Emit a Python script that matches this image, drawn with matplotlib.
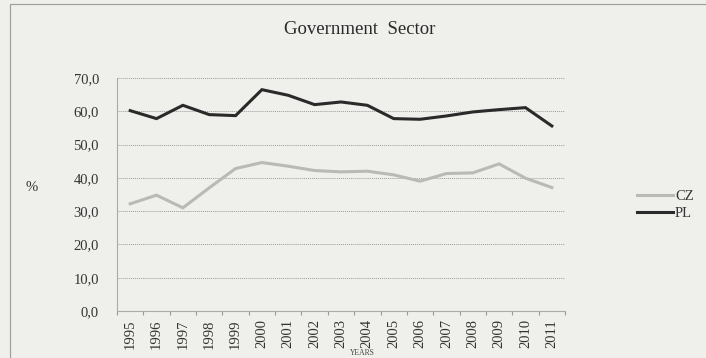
import numpy as np
import matplotlib.pyplot as plt
from matplotlib.patches import Rectangle

years = ['1995', '1996', '1997', '1998', '1999', '2000', '2001', '2002', '2003',
         '2004', '2005', '2006', '2007', '2008', '2009', '2010', '2011']
cz = [32.2, 34.8, 31.0, 37.0, 42.8, 44.6, 43.5, 42.2, 41.8,
      42.0, 40.9, 39.0, 41.3, 41.5, 44.2, 39.9, 37.1]
pl = [60.2, 57.8, 61.8, 59.0, 58.7, 66.5, 64.8, 62.0, 62.8,
      61.8, 57.8, 57.6, 58.6, 59.8, 60.5, 61.1, 55.6]

plt.rcParams['font.family'] = ['Liberation Serif', 'DejaVu Serif']

bg = '#efefec'
fig = plt.figure(figsize=(7.06, 3.58), dpi=100, facecolor=bg)
ax = fig.add_axes([0.1657, 0.1313, 0.6346, 0.6508], facecolor=bg)

x = np.arange(len(years))
ax.plot(x, cz, color='#b9b9b7', lw=2.2, label='CZ', solid_joinstyle='miter')
ax.plot(x, pl, color='#2b2a2a', lw=2.2, label='PL', solid_joinstyle='miter')

ax.set_xlim(-0.5, len(years) - 0.5)
ax.set_ylim(0, 70)
ax.set_yticks(np.arange(0, 71, 10))
ax.set_yticklabels([f'{v:.1f}'.replace('.', ',') for v in range(0, 71, 10)],
                   fontsize=10.5, color='#333333')
ax.set_xticks(x)
ax.set_xticklabels(years, rotation=90, fontsize=10.5, color='#333333')
ax.tick_params(axis='x', which='major', length=0, pad=6)
ax.set_xticks(np.arange(-0.5, len(years), 1), minor=True)
ax.tick_params(axis='x', which='minor', length=3, color='#999999', width=0.8)
ax.tick_params(axis='y', length=0, pad=13)

ax.grid(axis='y', linestyle=(0, (1, 1)), color='#9a9a9a', lw=0.7)
ax.set_axisbelow(True)
for side in ['top', 'right']:
    ax.spines[side].set_visible(False)
ax.spines['left'].set_color('#aaaaaa')
ax.spines['left'].set_linewidth(0.8)
ax.spines['bottom'].set_color('#aaaaaa')
ax.spines['bottom'].set_linestyle((0, (1, 1)))
ax.spines['bottom'].set_linewidth(0.8)

fig.text(0.51, 0.918, 'Government  Sector', ha='center', va='center',
         fontsize=13.5, color='#2a2a2a')
fig.text(0.045, 0.475, '%', ha='center', va='center', fontsize=10.5, color='#333333')
fig.text(0.513, 0.014, 'YEARS', ha='center', va='center', fontsize=5.5, color='#444444')

ax.legend(loc='center left', bbox_to_anchor=(1.131, 0.455), frameon=False,
          fontsize=10.5, handlelength=2.5, handletextpad=0.12, labelspacing=0.3,
          labelcolor='#333333')

# outer chart frame
fig.patches.append(Rectangle((10 / 706, -0.05), 1.0, 0.07 + (358 - 11) / 358,
                             transform=fig.transFigure, fill=False,
                             edgecolor='#a0a0a0', lw=0.9))

fig.savefig('out.png', dpi=100, facecolor=bg)
